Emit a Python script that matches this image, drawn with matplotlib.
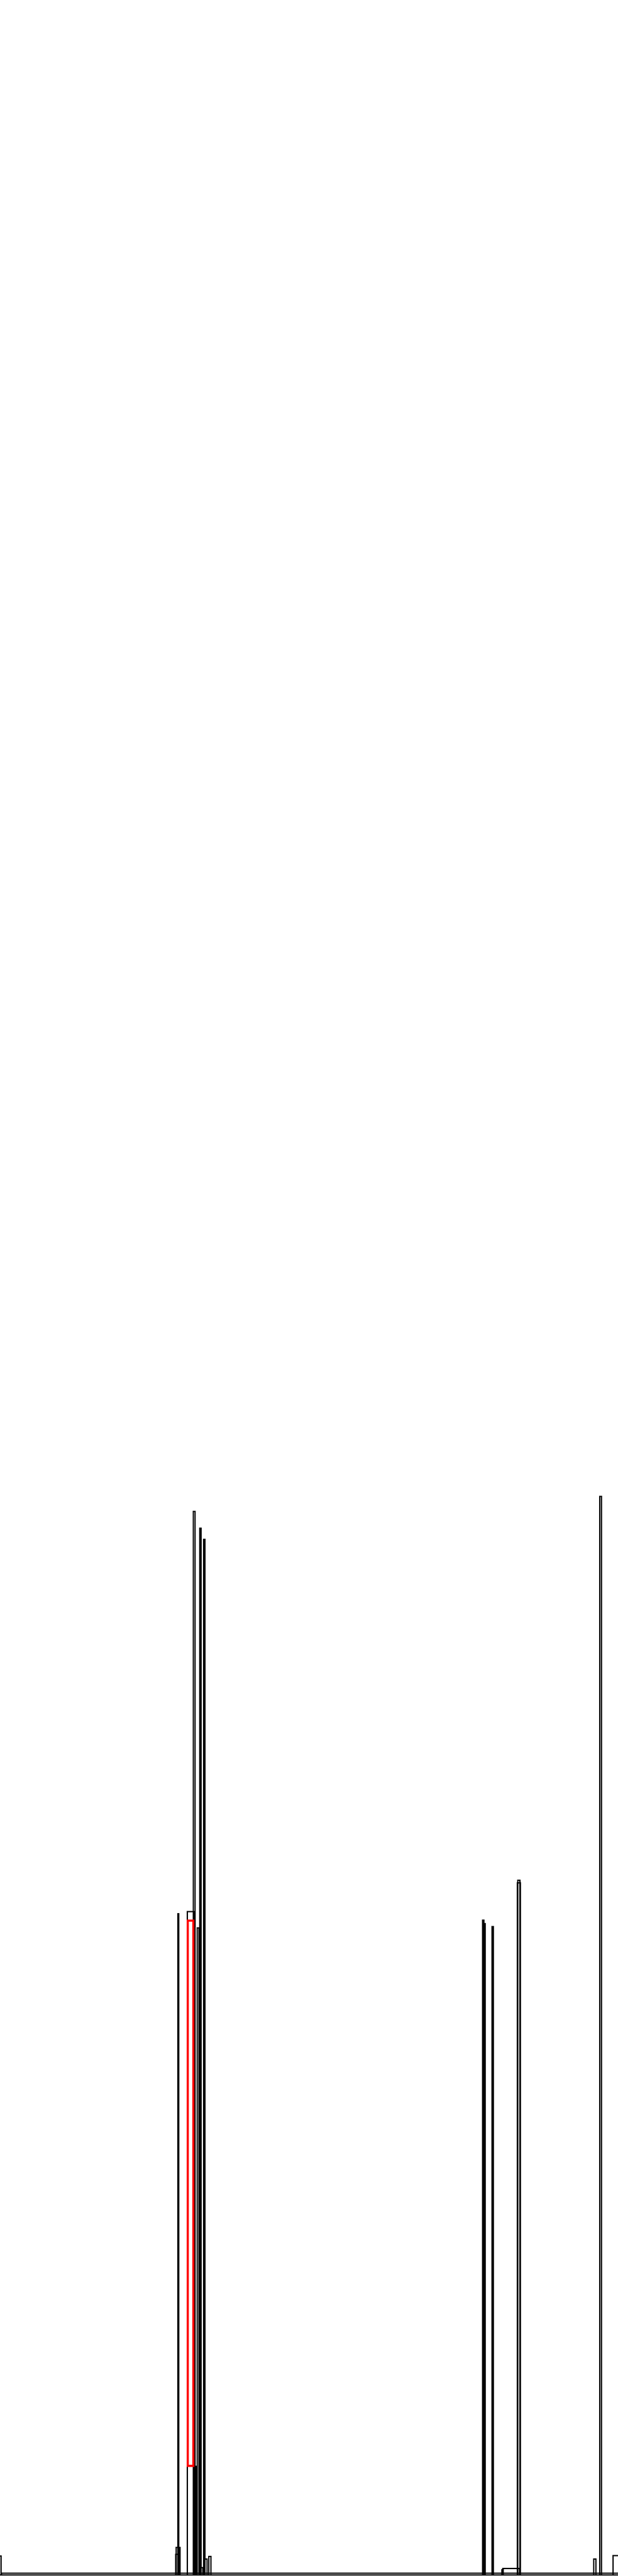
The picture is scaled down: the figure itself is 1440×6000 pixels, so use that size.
import matplotlib
matplotlib.use('Agg')
import matplotlib.pyplot as plt

# bar outlines (x in pixels, heights in pixels above the baseline)
bar_left = [-5, 3, 409, 410, 414, 436, 436, 450, 454, 459, 465, 474, 463, 477, 486,
            1124, 1127, 1146, 1171, 1169, 1205, 1206, 1383, 1397, 1428]
bar_width = [7, 1440, 10, 9, 2, 16, 17, 4, 3, 4, 3, 3, 9, 5, 5,
             3, 3, 3, 39, 3, 7, 5, 5, 4, 20]
bar_height = [44, 4, 48, 64, 1540, 1545, 254, 2477, 253, 1507, 2438, 2412, 17, 37, 43,
              1525, 1517, 1510, 15, 12, 1612, 1618, 37, 2512, 45]
bar_bottom = [0] * len(bar_left)

# the red segment stacked on top of the short black bar
red_left = [437]
red_width = [13]
red_height = [1270]
red_bottom = [254]


def draw():
    fig = plt.figure(figsize=(14.4, 60), dpi=100)
    ax = fig.add_axes([0, 0, 1, 1])
    ax.bar(bar_left, bar_height, width=bar_width, bottom=bar_bottom, align='edge',
           fill=False, edgecolor='black', linewidth=2, antialiased=False)
    ax.bar(red_left, red_height, width=red_width, bottom=red_bottom, align='edge',
           fill=False, edgecolor='red', linewidth=2.2, antialiased=False)
    ax.set_xlim(0, 1440)
    ax.set_ylim(-3, 5997)
    ax.axis('off')
    fig.savefig('out.png', dpi=100, facecolor='white')


if __name__ == '__main__':
    draw()
